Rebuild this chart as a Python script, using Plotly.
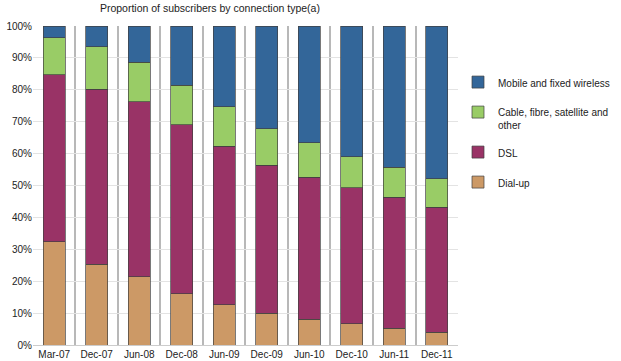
import plotly.graph_objects as go

categories = ["Mar-07", "Dec-07", "Jun-08", "Dec-08", "Jun-09", "Dec-09", "Jun-10", "Dec-10", "Jun-11", "Dec-11"]
dial_up = [32.4, 25.3, 21.4, 16.1, 12.6, 9.9, 8.0, 6.6, 5.2, 4.0]
dsl = [52.3, 54.9, 54.8, 52.9, 49.7, 46.4, 44.6, 42.7, 41.1, 39.2]
cable = [11.6, 13.3, 12.4, 12.5, 12.4, 11.5, 10.8, 9.7, 9.4, 8.9]
mobile = [3.7, 6.5, 11.4, 18.5, 25.3, 32.2, 36.6, 41.0, 44.3, 47.9]

series = [
    ("Dial-up", dial_up, "#CC9966", 4),
    ("DSL", dsl, "#993366", 3),
    ("Cable, fibre, satellite and<br>other", cable, "#99CC66", 2),
    ("Mobile and fixed wireless", mobile, "#336699", 1),
]

FONT = "Liberation Sans, Arial, sans-serif"

fig = go.Figure()
for i, (name, vals, col, rank) in enumerate(series):
    fig.add_trace(go.Bar(
        x=categories, y=vals, name=name,
        marker=dict(color=col, line=dict(color="#404040", width=0.7)),
        width=0.52, legendgroup=str(i), legendrank=rank,
    ))

fig.update_layout(
    barmode="stack",
    width=621, height=361,
    margin=dict(l=33, r=163, t=26, b=16, autoexpand=False),
    paper_bgcolor="white", plot_bgcolor="white",
    font=dict(family=FONT, size=10, color="#222"),
    title=dict(text="Proportion of subscribers by connection type(a)",
               x=0.338, xref="container", xanchor="center",
               y=1 - 8 / 361, yref="container", yanchor="middle",
               font=dict(family=FONT, size=10.5, color="#222")),
    legend=dict(x=1.0, y=0.865, xanchor="left", yanchor="top",
                traceorder="grouped", tracegroupgap=11,
                valign="top", font=dict(family=FONT, size=10, color="#222"),
                itemwidth=30),
    showlegend=True,
)
fig.update_xaxes(
    type="category", tickson="boundaries", range=[-0.499, 9.5],
    showgrid=True, gridcolor="#B8B8B8", gridwidth=1.5,
    showline=True, linecolor="#CCCCCC", ticks="", tickangle=0,
    tickfont=dict(size=10), fixedrange=True, automargin=False,
)
fig.update_yaxes(
    range=[0, 100], dtick=10, ticksuffix="%",
    showgrid=True, gridcolor="#E3E3E3", gridwidth=1,
    showline=False, zeroline=False, ticks="", tickfont=dict(size=10),
    automargin=False,
)

fig.write_html("out.html", config={"displayModeBar": False},
               post_script="document.body.style.margin='0';document.body.style.overflow='hidden';")
